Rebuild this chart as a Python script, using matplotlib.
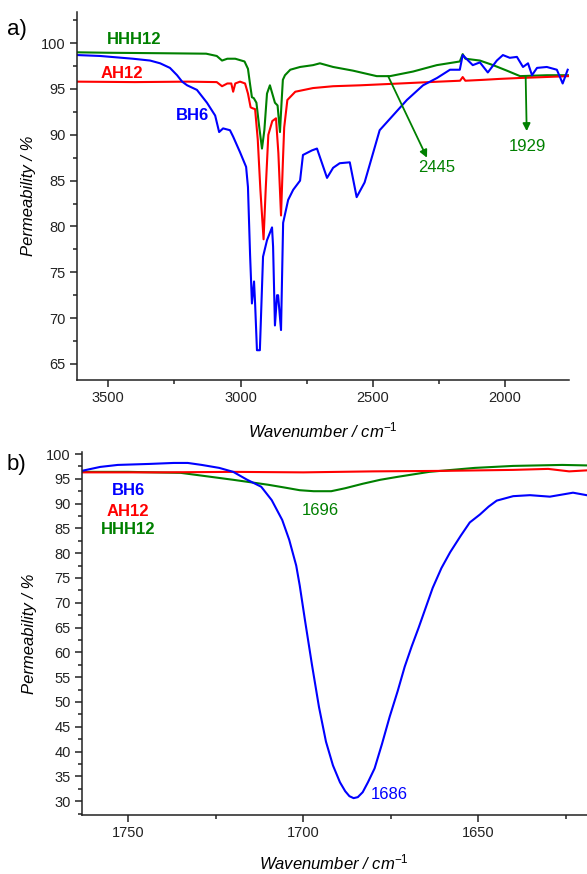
import matplotlib
matplotlib.use("Agg")
import matplotlib.pyplot as plt
from matplotlib.ticker import MultipleLocator

plt.rcParams['font.family'] = ['Liberation Sans', 'DejaVu Sans']
plt.rcParams['mathtext.fontset'] = 'custom'
plt.rcParams['mathtext.rm'] = 'Liberation Sans'
plt.rcParams['mathtext.it'] = 'Liberation Sans:italic'

BLUE = '#0000ff'
RED = '#ff0000'
GREEN = '#008000'

# ---- panel a) 3600-1750 cm-1 ----
hhh_a_x = [3620, 3500, 3300, 3130, 3090, 3070, 3050, 3020, 2985, 2972, 2964, 2957, 2950, 2940, 2930,
           2919, 2910, 2900, 2889, 2880, 2870, 2860, 2851, 2845, 2840, 2832, 2812, 2775, 2726, 2700,
           2650, 2575, 2485, 2435, 2348, 2258, 2171, 2160, 2150, 2095, 2045, 1993, 1943, 1842, 1760]
hhh_a_y = [99.0, 98.95, 98.9, 98.85, 98.6, 98.1, 98.3, 98.3, 98.0, 97.2, 95.5, 94.1, 94.0, 93.5, 91.0,
           88.5, 90.5, 94.5, 95.4, 94.5, 93.5, 93.2, 90.3, 93.5, 96.0, 96.5, 97.1, 97.4, 97.6, 97.8,
           97.4, 97.0, 96.4, 96.4, 96.9, 97.6, 98.0, 98.8, 98.3, 98.1, 97.6, 97.0, 96.4, 96.5, 96.5]

ah_a_x = [3620, 3400, 3200, 3090, 3070, 3050, 3035, 3028, 3020, 3002, 2983, 2972, 2962, 2955, 2945,
          2935, 2925, 2913, 2905, 2895, 2880, 2866, 2857, 2847, 2840, 2835, 2823, 2793, 2726, 2650,
          2548, 2397, 2250, 2170, 2160, 2150, 2080, 2020, 1943, 1850, 1760]
ah_a_y = [95.8, 95.75, 95.8, 95.75, 95.3, 95.6, 95.6, 94.7, 95.6, 95.8, 95.6, 94.5, 93.0, 92.9, 92.8,
          89.5, 84.0, 78.6, 84.0, 90.0, 91.5, 91.8, 88.0, 81.2, 87.0, 90.8, 93.8, 94.7, 95.1, 95.3,
          95.4, 95.6, 95.8, 95.9, 96.3, 95.9, 96.0, 96.1, 96.2, 96.3, 96.4]

bh_a_x = [3618, 3531, 3407, 3342, 3304, 3267, 3240, 3221, 3202, 3165, 3127, 3096, 3081, 3066, 3040,
          3028, 3002, 2979, 2972, 2964, 2957, 2949, 2945, 2938, 2927, 2915, 2900, 2881, 2877, 2870,
          2862, 2858, 2847, 2839, 2820, 2801, 2775, 2764, 2730, 2711, 2673, 2650, 2625, 2587, 2561,
          2531, 2504, 2474, 2424, 2371, 2310, 2257, 2208, 2171, 2160, 2122, 2095, 2065, 2031, 2008,
          1982, 1955, 1932, 1913, 1898, 1879, 1842, 1804, 1782, 1763]
bh_a_y = [98.7, 98.6, 98.3, 98.1, 97.8, 97.3, 96.5, 95.8, 95.4, 94.9, 93.5, 92.1, 90.3, 90.7, 90.5,
          89.8, 88.1, 86.5, 84.3, 76.9, 71.6, 74.0, 71.6, 66.5, 66.5, 76.7, 78.5, 79.9, 77.8, 69.2,
          72.5, 72.5, 68.7, 80.4, 82.9, 84.0, 85.0, 87.8, 88.3, 88.5, 85.3, 86.4, 86.9, 87.0, 83.2,
          84.8, 87.5, 90.5, 92.1, 93.8, 95.4, 96.2, 97.1, 97.1, 98.7, 97.6, 97.9, 96.8, 98.1, 98.7,
          98.4, 98.5, 97.4, 97.8, 96.5, 97.3, 97.4, 97.1, 95.6, 97.1]

# ---- panel b) 1760-1620 cm-1 ----
bh_b_x = [1763.3, 1758, 1753, 1744, 1737, 1733, 1729, 1724, 1720, 1716, 1712, 1709, 1706, 1704, 1702,
          1701, 1699.5, 1697.5, 1695.5, 1693.5, 1691.5, 1689.5, 1688, 1686.8, 1685.6, 1684.4, 1683,
          1681.5, 1679.6, 1677.5, 1675.3, 1673, 1671, 1669, 1667, 1665, 1663, 1660.5, 1658, 1655,
          1652.4, 1649.5, 1647, 1644.7, 1640, 1635.2, 1629.5, 1622.9, 1619]
bh_b_y = [96.6, 97.4, 97.8, 98.0, 98.2, 98.2, 97.8, 97.2, 96.4, 94.8, 93.4, 90.7, 86.7, 82.7, 77.5,
          73.5, 66.5, 57.5, 49.0, 42.0, 37.2, 33.8, 32.0, 31.0, 30.6, 30.8, 31.8,
          33.8, 36.6, 41.5, 47.0, 52.2, 57.1, 61.2, 65.0, 69.0, 73.0, 77.0, 80.2, 83.5,
          86.2, 87.8, 89.4, 90.6, 91.5, 91.7, 91.4, 92.2, 91.7]

ah_b_x = [1763.3, 1740, 1720, 1700, 1680, 1660, 1640, 1630, 1624, 1619]
ah_b_y = [96.3, 96.3, 96.4, 96.3, 96.5, 96.6, 96.8, 97.0, 96.5, 96.7]

hhh_b_x = [1763.3, 1750, 1735, 1720, 1710, 1705, 1701, 1697, 1692, 1688, 1683, 1678, 1673, 1664,
           1651, 1640, 1626, 1619]
hhh_b_y = [96.4, 96.4, 96.2, 94.8, 93.8, 93.2, 92.7, 92.5, 92.5, 93.1, 94.0, 94.8, 95.4, 96.4,
           97.2, 97.6, 97.8, 97.7]

fig = plt.figure(figsize=(5.87, 8.74), dpi=100)
ax1 = fig.add_axes([0.1307, 0.5652, 0.8392, 0.4211])
ax2 = fig.add_axes([0.1392, 0.0675, 0.8608, 0.4153])

for ax in (ax1, ax2):
    for s in ('top', 'right'):
        ax.spines[s].set_visible(False)
    for s in ('left', 'bottom'):
        ax.spines[s].set_linewidth(1.1)
        ax.spines[s].set_color('#222222')
    ax.tick_params(which='major', length=5, width=1.1, labelsize=10.5, pad=3, colors='#222222')
    ax.tick_params(which='minor', length=3, width=1.1, colors='#222222')
    ax.set_ylabel('Permeability / %', fontsize=12, style='italic', va='center')
    ax.set_xlabel('Wavenumber / cm$^{\\mathrm{-1}}$', fontsize=12, style='italic', va='center')

# panel a
ax1.plot(hhh_a_x, hhh_a_y, color=GREEN, lw=1.5)
ax1.plot(ah_a_x, ah_a_y, color=RED, lw=1.5)
ax1.plot(bh_a_x, bh_a_y, color=BLUE, lw=1.5)
ax1.set_xlim(3619.5, 1756.8)
ax1.set_ylim(63.25, 103.4)
ax1.xaxis.set_major_locator(MultipleLocator(500))
ax1.xaxis.set_minor_locator(MultipleLocator(250))
ax1.yaxis.set_major_locator(MultipleLocator(5))
ax1.yaxis.set_minor_locator(MultipleLocator(2.5))
ax1.yaxis.set_label_coords(-0.097, 0.5)
ax1.xaxis.set_label_coords(0.5, -0.137)

ax1.text(3401, 100.4, 'HHH12', color=GREEN, fontsize=12, fontweight='bold', ha='center', va='center')
ax1.text(3449, 96.7, 'AH12', color=RED, fontsize=12, fontweight='bold', ha='center', va='center')
ax1.text(3183, 92.1, 'BH6', color=BLUE, fontsize=12, fontweight='bold', ha='center', va='center')

arrow = dict(arrowstyle='-|>', color=GREEN, lw=1.3, mutation_scale=11, shrinkA=0, shrinkB=0)
ax1.annotate('', xy=(2295, 87.5), xytext=(2442, 96.4), arrowprops=arrow)
ax1.text(2257, 86.4, '2445', color=GREEN, fontsize=12, ha='center', va='center')
ax1.annotate('', xy=(1918, 90.4), xytext=(1922, 96.4), arrowprops=arrow)
ax1.text(1914, 88.7, '1929', color=GREEN, fontsize=12, ha='center', va='center')

# panel b
ax2.plot(hhh_b_x, hhh_b_y, color=GREEN, lw=1.5)
ax2.plot(ah_b_x, ah_b_y, color=RED, lw=1.5)
ax2.plot(bh_b_x, bh_b_y, color=BLUE, lw=1.5)
ax2.set_xlim(1763.3, 1618.9)
ax2.set_ylim(27.2, 100.4)
ax2.xaxis.set_major_locator(MultipleLocator(50))
ax2.xaxis.set_minor_locator(MultipleLocator(25))
ax2.yaxis.set_major_locator(MultipleLocator(5))
ax2.yaxis.set_minor_locator(MultipleLocator(2.5))
ax2.yaxis.set_label_coords(-0.104, 0.5)
ax2.xaxis.set_label_coords(0.5, -0.13)

ax2.text(1750, 92.7, 'BH6', color=BLUE, fontsize=12, fontweight='bold', ha='center', va='center')
ax2.text(1750, 88.4, 'AH12', color=RED, fontsize=12, fontweight='bold', ha='center', va='center')
ax2.text(1750, 84.8, 'HHH12', color=GREEN, fontsize=12, fontweight='bold', ha='center', va='center')
ax2.text(1695.2, 88.7, '1696', color=GREEN, fontsize=12, ha='center', va='center')
ax2.text(1675.5, 31.25, '1686', color=BLUE, fontsize=12, ha='center', va='center')

fig.text(0.012, 0.9657, 'a)', fontsize=16, va='center', ha='left')
fig.text(0.012, 0.468, 'b)', fontsize=16, va='center', ha='left')

fig.savefig('out.png', dpi=100)
